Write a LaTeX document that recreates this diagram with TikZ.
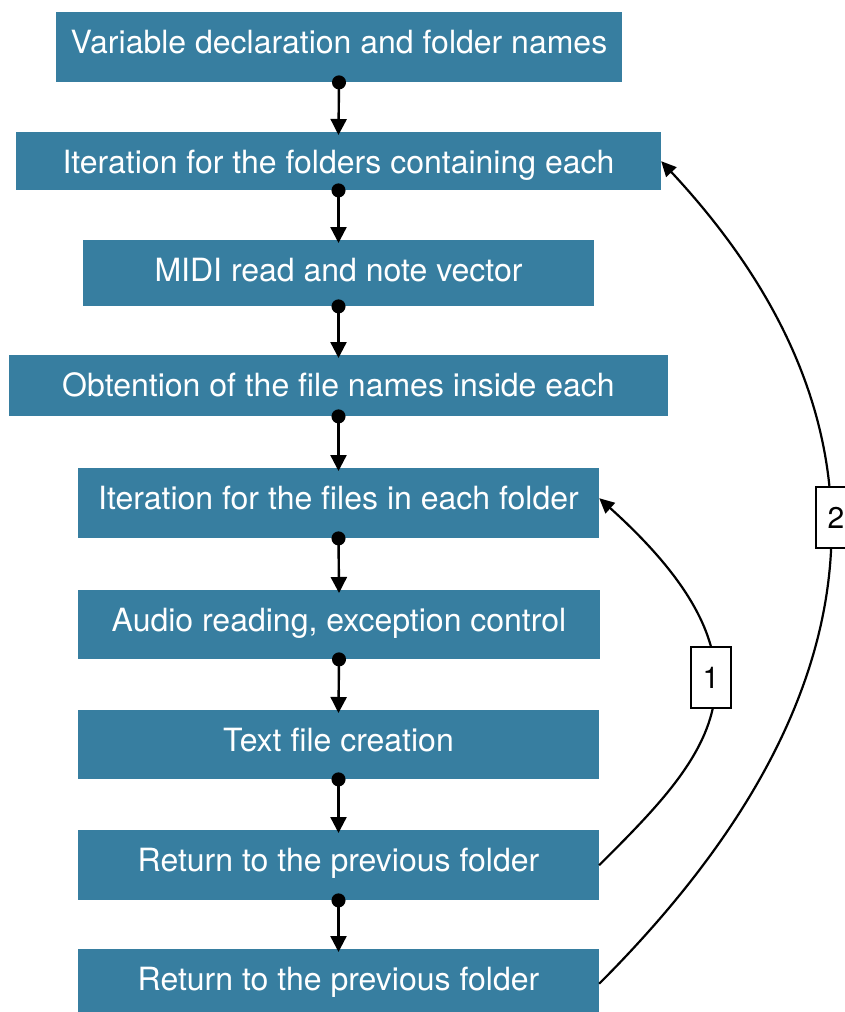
\documentclass[tikz,border=0pt]{standalone}
\usepackage{fontspec}
\setmainfont{TeX Gyre Heros}
\usetikzlibrary{arrows.meta}
\definecolor{boxblue}{RGB}{55,126,160}
\begin{document}
\begin{tikzpicture}[x=1pt,y=1pt,
  % box text sits a fixed distance below the top edge of each box
  stage/.style={fill=boxblue, text=white, inner sep=0pt, anchor=north,
    text height=41pt, font=\fontsize{32}{38}\selectfont},
  flow/.style={line width=2.4pt,
    {Circle[length=14pt]}-{Triangle[length=16pt,width=16pt]},
    shorten <=-7pt, shorten >=-3pt},
  loopback/.style={line width=2.2pt, -{Triangle[length=15pt,width=14pt]}},
  tag/.style={draw, fill=white, line width=2pt, inner sep=0pt,
    minimum width=40pt, minimum height=61pt,
    font=\fontsize{30}{36}\selectfont}]
\useasboundingbox (0,0) rectangle (845,-1012);

% processing stages (anchored at their top edges)
\node[stage, minimum width=566pt, text depth=29pt] (b1) at (339,-12)
  {Variable declaration and folder names};
\node[stage, minimum width=645pt, text depth=17pt] (b2) at (338.5,-132)
  {Iteration for the folders containing each};
\node[stage, minimum width=511pt, text depth=25pt] (b3) at (338.5,-240)
  {MIDI read and note vector};
\node[stage, minimum width=659pt, text depth=20pt] (b4) at (338.5,-355)
  {Obtention of the file names inside each};
\node[stage, minimum width=521pt, text depth=29pt] (b5) at (338.5,-468)
  {Iteration for the files in each folder};
\node[stage, minimum width=522pt, text depth=28pt] (b6) at (339,-590)
  {Audio reading, exception control};
\node[stage, minimum width=521pt, text depth=28pt] (b7) at (338.5,-710)
  {Text file creation};
\node[stage, minimum width=521pt, text depth=29pt] (b8) at (338.5,-830)
  {Return to the previous folder};
\node[stage, minimum width=521pt, text depth=28pt] (b9) at (338.5,-949)
  {Return to the previous folder};

% sequential flow
\draw[flow] (b1.south) -- (b2.north);
\draw[flow] (b2.south) -- (b3.north);
\draw[flow] (b3.south) -- (b4.north);
\draw[flow] (b4.south) -- (b5.north);
\draw[flow] (b5.south) -- (b6.north);
\draw[flow] (b6.south) -- (b7.north);
\draw[flow] (b7.south) -- (b8.north);
\draw[flow] (b8.south) -- (b9.north);

% loops back to the iterations
\draw[loopback] (b8.east) .. controls +(45:150pt) and +(-42:260pt)
  .. ([yshift=5pt]b5.east);
\draw[loopback] (b9.east) .. controls +(45:440pt) and +(-47:325pt) .. (b2.east);

\node[tag] (t1) at (711,-677.5) {1};
\node[tag] (t2) at (836,-517.5) {2};
\end{tikzpicture}
\end{document}
